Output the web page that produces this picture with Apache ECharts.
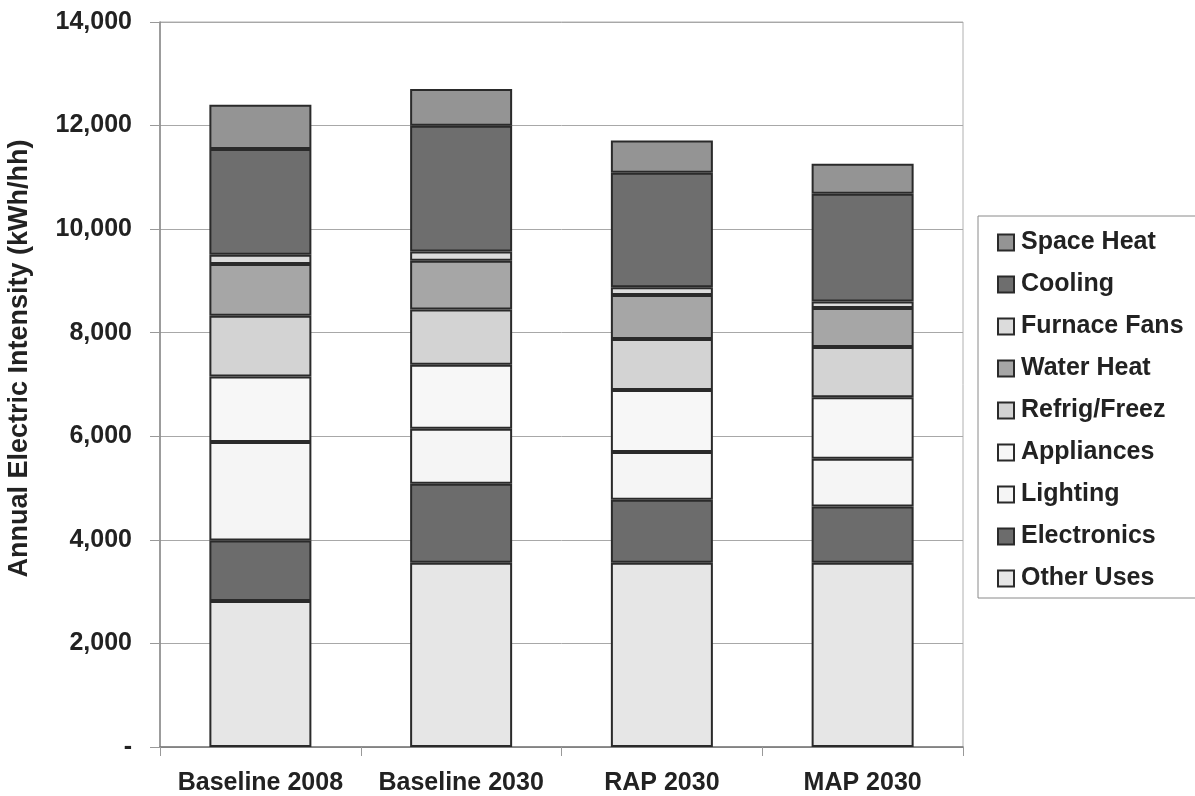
<!DOCTYPE html>
<html>
<head>
<meta charset="utf-8">
<script src="https://cdn.jsdelivr.net/npm/echarts@6/dist/echarts.min.js"></script>
<style>
  html, body { margin: 0; padding: 0; background: #ffffff; }
  #chart { width: 1195px; height: 796px; }
</style>
</head>
<body>
<div id="chart"></div>
<script>
// Scenarios on the category axis
const categories = ['Baseline 2008', 'Baseline 2030', 'RAP 2030', 'MAP 2030'];

// Annual electric intensity by end use (kWh per household), stacked bottom to top
const otherUses   = [2820, 3560, 3560, 3560];
const electronics = [1170, 1525, 1215, 1085];
const lighting    = [1900, 1060,  920,  920];
const appliances  = [1265, 1235, 1200, 1190];
const refrigFreez = [1175, 1070,  985,  970];
const waterHeat   = [ 995,  940,  850,  750];
const furnaceFans = [ 180,  180,  150,  130];
const cooling     = [2045, 2425, 2210, 2080];
const spaceHeat   = [ 850,  710,  620,  580];

// Value axis ticks
const yMin = 0, yMax = 14000, yStep = 2000;

const seriesDefs = [
  { name: 'Other Uses',   data: otherUses,   color: '#e6e6e6' },
  { name: 'Electronics',  data: electronics, color: '#6c6c6c' },
  { name: 'Lighting',     data: lighting,    color: '#f5f5f5' },
  { name: 'Appliances',   data: appliances,  color: '#f7f7f7' },
  { name: 'Refrig/Freez', data: refrigFreez, color: '#d3d3d3' },
  { name: 'Water Heat',   data: waterHeat,   color: '#a6a6a6' },
  { name: 'Furnace Fans', data: furnaceFans, color: '#dcdcdc' },
  { name: 'Cooling',      data: cooling,     color: '#6e6e6e' },
  { name: 'Space Heat',   data: spaceHeat,   color: '#949494' }
];

const chart = echarts.init(document.getElementById('chart'), null, { renderer: 'canvas' });

const sans = "'Liberation Sans', Arial, sans-serif";

chart.setOption({
  animation: false,
  backgroundColor: '#ffffff',
  grid: {
    left: 160, right: 232, top: 22, bottom: 49,
    outerBoundsMode: 'none',
    containLabel: false,
    show: true, borderColor: '#b0b0b0', borderWidth: 1
  },
  legend: {
    orient: 'vertical',
    left: 978, top: 216,
    data: seriesDefs.map(s => s.name).reverse(),
    icon: 'rect',
    itemWidth: 16, itemHeight: 16,
    itemGap: 17,
    padding: [14, 60, 7, 19],
    borderColor: '#8a8a8a', borderWidth: 1,
    backgroundColor: '#ffffff',
    selectedMode: false,
    textStyle: { fontFamily: sans, fontWeight: 'bold', fontSize: 25, color: '#222', padding: [0, 0, 0, 2] }
  },
  xAxis: {
    type: 'category',
    data: categories,
    axisLine: { lineStyle: { color: '#777', width: 1.5 } },
    axisTick: { show: true, length: 9, lineStyle: { color: '#999' } },
    axisLabel: { interval: 0, hideOverlap: false, margin: 24, fontFamily: sans, fontWeight: 'bold', fontSize: 25, color: '#222' }
  },
  yAxis: {
    type: 'value',
    min: yMin, max: yMax, interval: yStep,
    name: 'Annual Electric Intensity (kWh/hh)',
    nameLocation: 'middle',
    nameGap: 127,
    nameTextStyle: { fontFamily: sans, fontWeight: 'bold', fontSize: 27, color: '#222', padding: [0, 0, 0, 52] },
    axisLine: { show: true, lineStyle: { color: '#888', width: 1.5 } },
    axisTick: { show: true, length: 10, lineStyle: { color: '#999' } },
    splitLine: { lineStyle: { color: '#a8a8a8', width: 1 } },
    axisLabel: {
      margin: 28, fontFamily: sans, fontWeight: 'bold', fontSize: 25, color: '#222',
      formatter: v => v === 0 ? '-' : v.toLocaleString('en-US')
    }
  },
  series: seriesDefs.map(s => ({
    name: s.name,
    type: 'bar',
    stack: 'total',
    barWidth: 102,
    data: s.data,
    itemStyle: { color: s.color, borderColor: '#2a2a2a', borderWidth: 2 }
  }))
});
</script>
</body>
</html>
